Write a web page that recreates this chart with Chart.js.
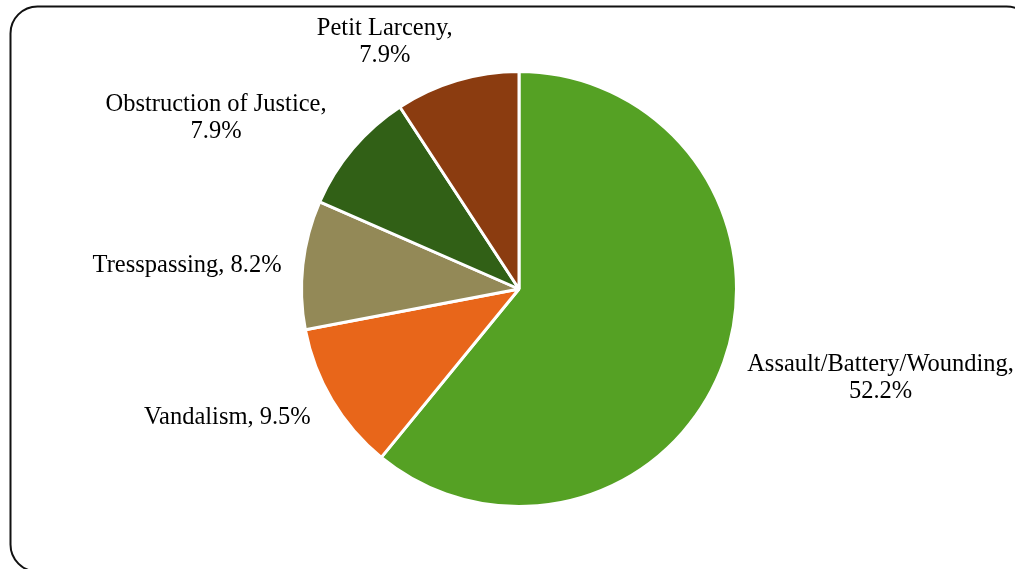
<!DOCTYPE html>
<html>
<head>
<meta charset="utf-8">
<title>Offense types</title>
<script src="https://cdn.jsdelivr.net/npm/chart.js@4.4.1/dist/chart.umd.min.js"></script>
<style>
    html, body { margin: 0; padding: 0; background: #fff; }
    canvas { display: block; }
</style>
</head>
<body>
<canvas id="offenseChart" width="1015" height="569"></canvas>
<script>
const categories = ['Assault/Battery/Wounding', 'Vandalism', 'Tresspassing', 'Obstruction of Justice', 'Petit Larceny'];
const shares = [52.2, 9.5, 8.2, 7.9, 7.9];
const sliceColors = ['#55a124', '#e8661a', '#938957', '#316016', '#8b3c10'];

// label layout: two-line labels, distance from the rim, hand nudges
const twoLines = [true, false, false, true, true];
const labelGap = [33, 35, 24, 53, 34];
const labelNudge = [[0, -4], [-3, -8], [2, 5], [-12, 21], [-43, 20]];

const FONT = '24.5px "Liberation Serif", "Times New Roman", serif';
const LINE_H = 27;

const framePlugin = {
    id: 'frame',
    beforeDraw(chart) {
        const ctx = chart.ctx;
        ctx.save();
        ctx.fillStyle = '#fff';
        ctx.fillRect(0, 0, chart.width, chart.height);
        ctx.beginPath();
        ctx.roundRect(10.5, 6.5, 1023, 565, 27);
        ctx.lineWidth = 2;
        ctx.strokeStyle = '#111';
        ctx.stroke();
        ctx.restore();
    }
};

const sliceLabels = {
    id: 'sliceLabels',
    afterDatasetsDraw(chart) {
        const ctx = chart.ctx;
        const arcs = chart.getDatasetMeta(0).data;
        ctx.save();
        ctx.font = FONT;
        ctx.fillStyle = '#000';
        ctx.textAlign = 'center';
        ctx.textBaseline = 'middle';
        arcs.forEach((arc, i) => {
            const pct = shares[i].toFixed(1) + '%';
            const lines = twoLines[i] ? [categories[i] + ',', pct] : [categories[i] + ', ' + pct];
            const mid = (arc.startAngle + arc.endAngle) / 2;
            const dx = Math.cos(mid), dy = Math.sin(mid);
            const r = arc.outerRadius + labelGap[i];
            const w = Math.max(...lines.map(l => ctx.measureText(l).width));
            const h = lines.length * LINE_H;
            const cx = arc.x + r * dx + dx * w / 2 + labelNudge[i][0];
            const cy = arc.y + r * dy + dy * h / 2 + labelNudge[i][1];
            lines.forEach((l, k) => {
                ctx.fillText(l, cx, cy - h / 2 + LINE_H * (k + 0.5));
            });
        });
        ctx.restore();
    }
};

new Chart(document.getElementById('offenseChart'), {
    type: 'pie',
    data: {
        labels: categories,
        datasets: [{
            data: shares,
            backgroundColor: sliceColors,
            borderColor: '#ffffff',
            borderWidth: 3
        }]
    },
    options: {
        responsive: false,
        animation: false,
        layout: { padding: { left: 300, right: 277, top: 70, bottom: 61 } },
        plugins: {
            legend: { display: false },
            tooltip: { enabled: false }
        }
    },
    plugins: [framePlugin, sliceLabels]
});
</script>
</body>
</html>
